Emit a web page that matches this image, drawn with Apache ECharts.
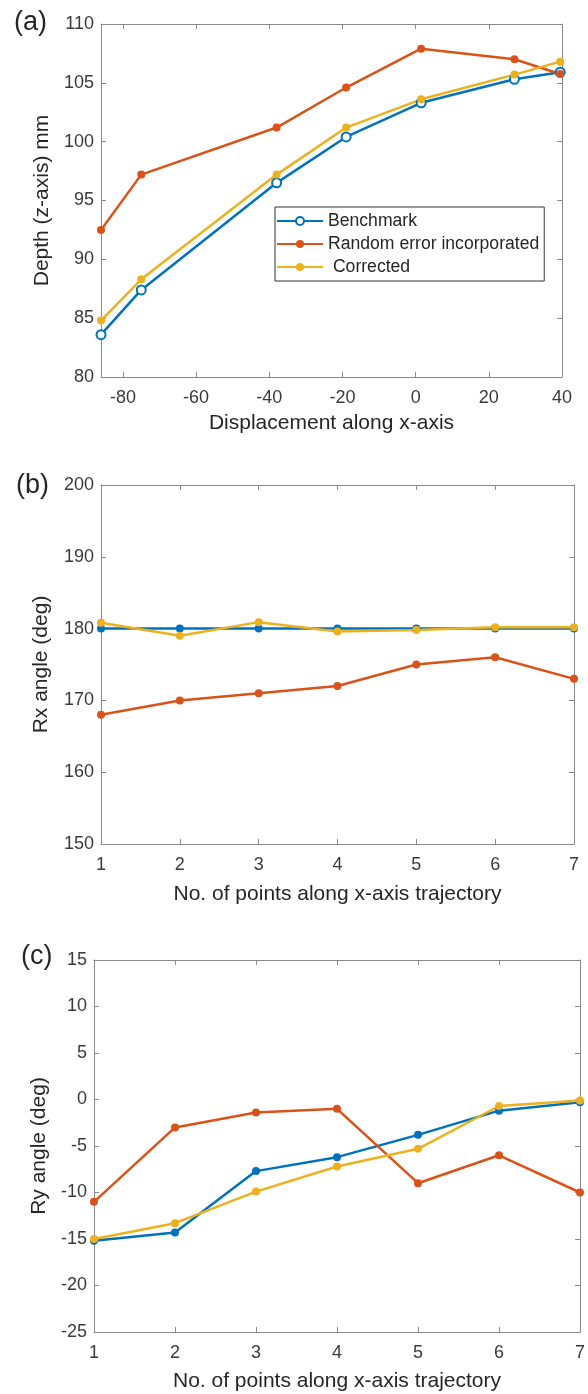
<!DOCTYPE html>
<html>
<head>
<meta charset="utf-8">
<script src="https://cdn.jsdelivr.net/npm/echarts@6/dist/echarts.min.js"></script>
<style>
html, body { margin: 0; padding: 0; background: #fff; }
#main { width: 588px; height: 1394px; }
</style>
</head>
<body>
<div id="main"></div>
<script>
// (a) depth vs displacement along x
var dispX = [-86, -75, -38, -19, 1.5, 27, 39.5];
var depthBenchmark = [83.6, 87.4, 96.5, 100.4, 103.3, 105.3, 105.9];
var depthRandom = [92.5, 97.2, 101.2, 104.6, 107.9, 107.0, 105.75];
var depthCorrected = [84.8, 88.3, 97.2, 101.2, 103.6, 105.7, 106.8];

// (b) and (c) angles per trajectory point
var pointNo = [1, 2, 3, 4, 5, 6, 7];
var rxBenchmark = [180, 180, 180, 180, 180, 180, 180];
var rxRandom = [168, 170, 171, 172, 175, 176, 173];
var rxCorrected = [180.8, 179, 180.9, 179.6, 179.8, 180.2, 180.2];
var ryBenchmark = [-15.2, -14.3, -7.7, -6.2, -3.8, -1.2, -0.3];
var ryRandom = [-11, -3, -1.4, -1, -9, -6, -10];
var ryCorrected = [-15, -13.3, -9.9, -7.2, -5.3, -0.7, -0.1];

var seriesNames = ['Benchmark', 'Random error incorporated', 'Corrected'];
var colors = ['#0072BD', '#D95319', '#EDB120'];

var font = 'Liberation Sans';
var axisColor = '#8a8a8a';
var textColor = '#3a3a3a';

var chart = echarts.init(document.getElementById('main'));

function pairs(xs, ys) {
    var out = [];
    for (var i = 0; i < xs.length; i++) out.push([xs[i], ys[i]]);
    return out;
}

// one axis of a box; mirror = top/right copy without labels
function axis(grid, pos, min, max, extra, mirror) {
    var a = {
        gridIndex: grid,
        type: 'value',
        position: pos,
        min: min,
        max: max,
        splitLine: { show: false },
        axisLine: { show: true, onZero: false, lineStyle: { color: axisColor, width: 1 } },
        axisTick: { show: true, inside: true, length: 5, lineStyle: { color: axisColor } },
        axisLabel: {
            show: !mirror,
            color: textColor,
            fontSize: 18,
            fontFamily: font,
            margin: (pos == 'bottom' || pos == 'top') ? 12 : 7,
            showMinLabel: true,
            showMaxLabel: true
        },
        nameTextStyle: { color: '#262626', fontSize: 21, fontFamily: font },
        nameLocation: 'middle'
    };
    for (var k in extra) a[k] = extra[k];
    return a;
}

var xAxes = [], yAxes = [];

// (a)
var xaExtra = {
    splitNumber: 6, minInterval: 20, maxInterval: 20
};
var xa = axis(0, 'bottom', -86, 40, xaExtra, false);
xa.axisLabel.formatter = function (v) { return v % 20 === 0 ? v : ''; };
xa.name = 'Displacement along x-axis';
xa.nameGap = 36;
xAxes.push(xa);
xAxes.push(axis(0, 'top', -86, 40, xaExtra, true));
yAxes.push(axis(0, 'left', 80, 110, { interval: 5, name: 'Depth (z-axis) mm', nameGap: 48 }, false));
yAxes.push(axis(0, 'right', 80, 110, { interval: 5 }, true));

// (b)
xAxes.push(axis(1, 'bottom', 1, 7, { interval: 1, name: 'No. of points along x-axis trajectory', nameGap: 40 }, false));
xAxes.push(axis(1, 'top', 1, 7, { interval: 1 }, true));
yAxes.push(axis(1, 'left', 150, 200, { interval: 10, name: 'Rx angle (deg)', nameGap: 49 }, false));
yAxes.push(axis(1, 'right', 150, 200, { interval: 10 }, true));

// (c)
xAxes.push(axis(2, 'bottom', 1, 7, { interval: 1, name: 'No. of points along x-axis trajectory', nameGap: 39 }, false));
xAxes.push(axis(2, 'top', 1, 7, { interval: 1 }, true));
yAxes.push(axis(2, 'left', -25, 15, { interval: 5, name: 'Ry angle (deg)', nameGap: 44 }, false));
yAxes.push(axis(2, 'right', -25, 15, { interval: 5 }, true));

function lineSeries(nameIdx, axisIdx, data, symbol) {
    return {
        name: seriesNames[nameIdx],
        type: 'line',
        xAxisIndex: axisIdx,
        yAxisIndex: axisIdx,
        data: data,
        symbol: symbol || 'circle',
        symbolSize: symbol == 'emptyCircle' ? 9 : 8,
        showAllSymbol: true,
        lineStyle: { color: colors[nameIdx], width: 2.5 },
        itemStyle: { color: colors[nameIdx], borderWidth: symbol == 'emptyCircle' ? 2 : 0 },
        emphasis: { disabled: true },
        animation: false
    };
}

var series = [
    lineSeries(0, 0, pairs(dispX, depthBenchmark), 'emptyCircle'),
    lineSeries(1, 0, pairs(dispX, depthRandom)),
    lineSeries(2, 0, pairs(dispX, depthCorrected)),
    lineSeries(0, 2, pairs(pointNo, rxBenchmark)),
    lineSeries(1, 2, pairs(pointNo, rxRandom)),
    lineSeries(2, 2, pairs(pointNo, rxCorrected)),
    lineSeries(0, 4, pairs(pointNo, ryBenchmark)),
    lineSeries(1, 4, pairs(pointNo, ryRandom)),
    lineSeries(2, 4, pairs(pointNo, ryCorrected))
];

var option = {
    backgroundColor: '#fff',
    animation: false,
    grid: [
        { left: 101, right: 26, top: 24, height: 353 },
        { left: 101, right: 14, top: 485, height: 359 },
        { left: 94, right: 6, top: 960, height: 372 }
    ],
    xAxis: xAxes,
    yAxis: yAxes,
    legend: {
        left: 275,
        top: 207,
        orient: 'vertical',
        itemWidth: 46,
        itemHeight: 10,
        itemGap: 5,
        padding: [5, 5, 5, 1],
        backgroundColor: '#fff',
        borderColor: '#333',
        borderWidth: 1,
        selectedMode: false,
        textStyle: { color: '#262626', fontSize: 17.6, fontFamily: font },
        formatter: function (name) { return name == 'Corrected' ? ' ' + name : name; },
        data: seriesNames
    },
    graphic: [
        { type: 'text', left: 14, top: 9, style: { text: '(a)', font: '27px "Liberation Sans"', fill: '#262626' } },
        { type: 'text', left: 16, top: 472, style: { text: '(b)', font: '27px "Liberation Sans"', fill: '#262626' } },
        { type: 'text', left: 21, top: 943, style: { text: '(c)', font: '27px "Liberation Sans"', fill: '#262626' } }
    ],
    series: series
};

chart.setOption(option);
</script>
</body>
</html>
